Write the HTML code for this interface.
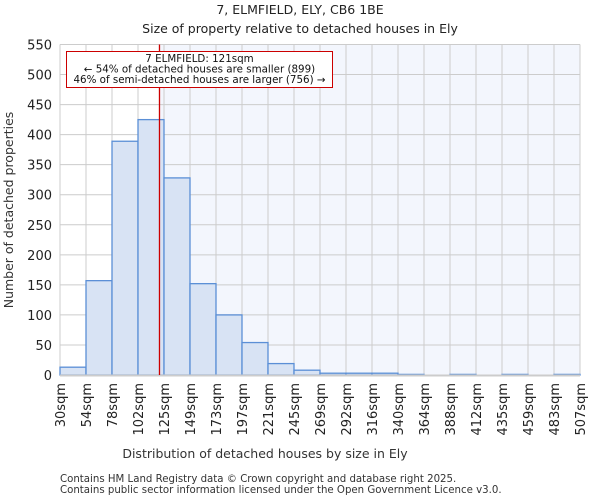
<!DOCTYPE html>
<html><head><meta charset="utf-8"><style>
body{margin:0;background:#fff;font-family:"DejaVu Sans","Liberation Sans",sans-serif;}
svg text{font-family:"DejaVu Sans","Liberation Sans",sans-serif;}
</style></head><body>
<svg id="c" width="600" height="500" xmlns="http://www.w3.org/2000/svg">
<text x="300" y="14" text-anchor="middle" font-size="12.5" fill="#222">7, ELMFIELD, ELY, CB6 1BE</text>
<text x="300" y="33" text-anchor="middle" font-size="12.5" fill="#222">Size of property relative to detached houses in Ely</text>
<g id="plot"></g>
<text x="265" y="458" text-anchor="middle" font-size="12.5" fill="#333">Distribution of detached houses by size in Ely</text>
<text transform="translate(13,210) rotate(-90)" text-anchor="middle" font-size="12.5" fill="#333">Number of detached properties</text>
<text x="60" y="482" font-size="10.2" fill="#333">Contains HM Land Registry data © Crown copyright and database right 2025.</text>
<text x="60" y="493" font-size="10.2" fill="#333">Contains public sector information licensed under the Open Government Licence v3.0.</text>
</svg>
<script>
const binLabels=["30sqm","54sqm","78sqm","102sqm","125sqm","149sqm","173sqm","197sqm","221sqm","245sqm","269sqm","292sqm","316sqm","340sqm","364sqm","388sqm","412sqm","435sqm","459sqm","483sqm","507sqm"];
const counts=[13,157,389,425,328,152,100,54,19,8,3,3,3,1,0,1,0,1,0,1];
const yTicks=[0,50,100,150,200,250,300,350,400,450,500,550];
const subjectSize=121;
const NS="http://www.w3.org/2000/svg";
const g=document.getElementById("plot");
const X0=60,X1=580,Y0=375,Y1=44.5,YMAX=550;
const bw=(X1-X0)/counts.length;
const xs=i=>X0+i*bw;
const ys=v=>Y0-(v/YMAX)*(Y0-Y1);
const xv=v=>{const e=binLabels.map(s=>parseFloat(s));for(let i=0;i<e.length-1;i++){if(v<=e[i+1])return xs(i)+(v-e[i])/(e[i+1]-e[i])*bw;}return X1;};
function mk(t,a){const e=document.createElementNS(NS,t);for(const k in a)e.setAttribute(k,a[k]);g.appendChild(e);return e;}
const lx=xv(subjectSize);
let e=mk("rect",{x:X0,y:Y1,width:lx-X0,height:Y0-Y1,fill:"#ffffff"});


e=mk("rect",{x:lx,y:Y1,width:X1-lx,height:Y0-Y1,fill:"#f3f6fd"});


yTicks.forEach(t=>{
 let l=mk("line",{x1:X0,x2:X1,y1:ys(t),y2:ys(t),stroke:"#cccccc","stroke-width":1});
 
 
 let tx=mk("text",{x:X0-8,y:ys(t)+5,"text-anchor":"end","font-size":13,fill:"#222"});
 tx.textContent=t;
 
 
});
binLabels.forEach((s,i)=>{
 let l=mk("line",{x1:xs(i),x2:xs(i),y1:Y1,y2:Y0,stroke:"#cccccc","stroke-width":1});
 
 
 let tx=mk("text",{transform:`translate(${xs(i)+5},${Y0+8}) rotate(-90)`,"text-anchor":"end","font-size":13,fill:"#222"});
 tx.textContent=s;
 
 
});
counts.forEach((v,i)=>{
 let r=mk("rect",{x:xs(i),y:ys(v),width:bw,height:Y0-ys(v),fill:"#d8e3f4",stroke:"#5b8fd6","stroke-width":1.3});
 
 
});
e=mk("line",{x1:X0,x2:X1,y1:Y0+0.5,y2:Y0+0.5,stroke:"#cccccc","stroke-width":2});


e=mk("line",{x1:lx,x2:lx,y1:Y1,y2:Y0,stroke:"#cc0000","stroke-width":1.3});


e=mk("rect",{x:66.5,y:51.5,width:266,height:36,fill:"#fff",stroke:"#cc0000","stroke-width":1});


[["7 ELMFIELD: 121sqm",62],["← 54% of detached houses are smaller (899)",72.5],["46% of semi-detached houses are larger (756) →",83]].forEach((a,i)=>{
 let t=mk("text",{x:199.5,y:a[1],"text-anchor":"middle","font-size":10.3,fill:"#111"});
 t.textContent=a[0];
 
 
});
</script>
</body></html>
